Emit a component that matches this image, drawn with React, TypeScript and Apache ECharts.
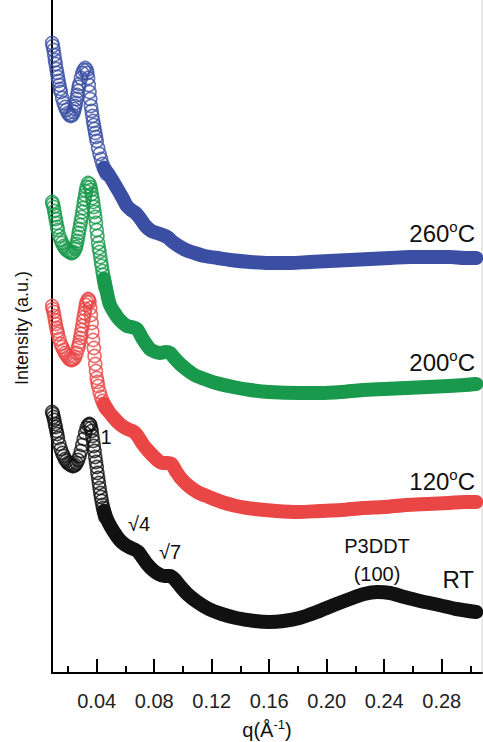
import React, { useEffect, useRef } from 'react';
import * as echarts from 'echarts';

// x-axis ticks (q, 1/Å)
const qMajorTicks = [0.04, 0.08, 0.12, 0.16, 0.2, 0.24, 0.28];
const qMinorTicks = [0.02, 0.06, 0.1, 0.14, 0.18, 0.22, 0.26, 0.3];

// ---- 260 oC (blue) ----
const blueLowQ: number[][] = [
  [0.009, 630], [0.0095, 627], [0.01, 623], [0.0105, 618], [0.011, 613], [0.0115, 609], [0.012, 604],
  [0.0125, 600], [0.013, 596], [0.0135, 592], [0.014, 588], [0.0145, 584], [0.015, 581], [0.016, 575],
  [0.017, 570], [0.018, 566], [0.019, 563], [0.02, 560], [0.021, 558], [0.022, 557], [0.023, 558],
  [0.024, 561], [0.0245, 564], [0.025, 567], [0.0255, 570], [0.026, 574], [0.0265, 578], [0.027, 582],
  [0.0275, 586], [0.028, 589], [0.029, 595], [0.03, 600], [0.031, 603], [0.032, 605], [0.033, 603],
  [0.0335, 600], [0.034, 595], [0.0345, 588], [0.035, 581], [0.0355, 574], [0.036, 567], [0.0365, 562],
  [0.037, 557], [0.0375, 552], [0.038, 548], [0.0385, 544], [0.039, 540], [0.0395, 536], [0.04, 532],
  [0.041, 525], [0.042, 519], [0.043, 514], [0.044, 509], [0.045, 505], [0.046, 502], [0.047, 499],
];
const blueHighQ: number[][] = [
  [0.045, 505], [0.049, 497], [0.054, 485], [0.058, 475], [0.061, 467], [0.064, 463], [0.067, 460],
  [0.07, 455], [0.074, 447], [0.078, 442], [0.082, 440], [0.086, 438], [0.089, 436], [0.093, 431],
  [0.097, 427], [0.102, 423], [0.108, 420], [0.115, 417], [0.124, 415], [0.133, 413], [0.147, 411],
  [0.16, 410], [0.175, 410], [0.188, 411], [0.202, 412], [0.216, 413], [0.23, 414], [0.244, 415],
  [0.258, 416], [0.272, 416], [0.286, 416], [0.296, 415], [0.304, 415],
];

// ---- 200 oC (green) ----
const greenLowQ: number[][] = [
  [0.009, 471], [0.0095, 469], [0.01, 466], [0.0105, 462], [0.011, 458], [0.0115, 454], [0.012, 450],
  [0.0125, 446], [0.013, 443], [0.014, 437], [0.015, 433], [0.016, 430], [0.017, 427], [0.018, 425],
  [0.019, 423], [0.02, 422], [0.021, 421], [0.022, 420], [0.023, 420], [0.024, 421], [0.025, 424],
  [0.0255, 426], [0.026, 429], [0.0265, 432], [0.027, 436], [0.0275, 440], [0.028, 444], [0.0285, 448],
  [0.029, 452], [0.0295, 456], [0.03, 461], [0.0305, 465], [0.031, 470], [0.0315, 474], [0.032, 478],
  [0.0325, 482], [0.033, 486], [0.034, 490], [0.035, 489], [0.0355, 486], [0.036, 483], [0.0365, 479],
  [0.037, 475], [0.0375, 471], [0.038, 466], [0.0385, 461], [0.039, 456], [0.0395, 450], [0.04, 443],
  [0.0405, 437], [0.041, 430], [0.0415, 425], [0.042, 421], [0.0425, 416], [0.043, 411], [0.0435, 407],
  [0.044, 402], [0.0445, 398], [0.045, 394], [0.0455, 390], [0.046, 386],
];
const greenHighQ: number[][] = [
  [0.045, 394], [0.047, 381], [0.049, 369], [0.052, 361], [0.056, 353], [0.061, 347], [0.064, 346],
  [0.068, 344], [0.072, 334], [0.077, 324], [0.081, 321], [0.084, 320], [0.088, 321], [0.091, 320],
  [0.094, 315], [0.098, 309], [0.103, 303], [0.108, 298], [0.113, 295], [0.123, 290],
  [0.135, 286], [0.147, 283], [0.16, 281], [0.181, 280], [0.195, 280], [0.21, 281], [0.225, 283],
  [0.24, 284], [0.255, 285], [0.27, 286], [0.285, 287], [0.296, 288], [0.304, 289],
];

// ---- 120 oC (red) ----
const redLowQ: number[][] = [
  [0.009, 367], [0.0095, 364], [0.01, 361], [0.0105, 357], [0.011, 353], [0.0115, 349], [0.012, 345],
  [0.0125, 342], [0.013, 339], [0.014, 334], [0.015, 329], [0.016, 326], [0.017, 323], [0.018, 320],
  [0.019, 318], [0.02, 316], [0.021, 314], [0.022, 313], [0.023, 313], [0.024, 314], [0.025, 316],
  [0.026, 320], [0.027, 325], [0.0275, 328], [0.028, 331], [0.0285, 335], [0.029, 339], [0.0295, 343],
  [0.03, 347], [0.0305, 352], [0.031, 356], [0.0315, 360], [0.032, 364], [0.0325, 368], [0.033, 371],
  [0.034, 374], [0.0345, 373], [0.035, 371], [0.0355, 365], [0.036, 358], [0.0365, 350], [0.037, 341],
  [0.0375, 333], [0.038, 325], [0.0385, 317], [0.039, 309], [0.0395, 302], [0.04, 295], [0.0405, 291],
  [0.041, 287], [0.042, 281], [0.043, 276], [0.044, 272], [0.045, 269], [0.046, 266], [0.047, 264],
];
const redHighQ: number[][] = [
  [0.045, 269], [0.048, 262], [0.052, 255], [0.056, 249], [0.06, 245], [0.063, 243], [0.066, 241],
  [0.069, 236], [0.072, 229], [0.076, 222], [0.08, 216], [0.083, 212], [0.086, 210], [0.089, 210],
  [0.092, 209], [0.095, 202], [0.099, 194], [0.104, 187], [0.11, 181], [0.118, 176], [0.127, 171],
  [0.137, 167], [0.15, 164], [0.165, 162], [0.18, 161], [0.195, 162], [0.21, 163], [0.225, 165],
  [0.24, 166], [0.255, 168], [0.27, 169], [0.285, 170], [0.296, 171], [0.304, 171],
];

// ---- RT (black) ----
const blackLowQ: number[][] = [
  [0.009, 261], [0.0095, 259], [0.01, 256], [0.0105, 253], [0.011, 249], [0.0115, 246], [0.012, 242],
  [0.0125, 239], [0.013, 235], [0.014, 229], [0.015, 224], [0.016, 220], [0.017, 217], [0.018, 214],
  [0.019, 212], [0.02, 210], [0.021, 209], [0.022, 208], [0.023, 207], [0.024, 207], [0.025, 208],
  [0.026, 210], [0.027, 213], [0.028, 217], [0.029, 222], [0.03, 228], [0.031, 234], [0.032, 240],
  [0.033, 245], [0.034, 248], [0.035, 249], [0.0355, 248], [0.036, 245], [0.0365, 242], [0.037, 237],
  [0.0375, 232], [0.038, 227], [0.0385, 222], [0.039, 216], [0.0395, 211], [0.04, 206], [0.0405, 200],
  [0.041, 195], [0.0415, 190], [0.042, 185], [0.0425, 180], [0.043, 176], [0.0435, 172], [0.044, 168],
  [0.0445, 165], [0.045, 162], [0.0455, 159], [0.046, 156],
];
const blackHighQ: number[][] = [
  [0.045, 162], [0.048, 151], [0.052, 141], [0.056, 133], [0.06, 128], [0.064, 125], [0.067, 123],
  [0.069, 121], [0.072, 115], [0.075, 109], [0.079, 103], [0.083, 99], [0.087, 97], [0.091, 97],
  [0.094, 94], [0.098, 87], [0.103, 79], [0.11, 71], [0.118, 64], [0.127, 59], [0.137, 55],
  [0.15, 52], [0.16, 51], [0.17, 52], [0.181, 55], [0.193, 61], [0.205, 68], [0.216, 74],
  [0.226, 79], [0.235, 81], [0.244, 80], [0.254, 76], [0.265, 72], [0.278, 68], [0.29, 64], [0.304, 61],
];

const FONT = '"Liberation Sans", Arial, Helvetica, sans-serif';

const curves = [
  { name: 'RT', color: '#111111', low: blackLowQ, high: blackHighQ },
  { name: '120oC', color: '#ea4646', low: redLowQ, high: redHighQ },
  { name: '200oC', color: '#18994b', low: greenLowQ, high: greenHighQ },
  { name: '260oC', color: '#3a4fa3', low: blueLowQ, high: blueHighQ },
];

function tempLabel(deg: string, x: number, y: number) {
  return {
    type: 'text',
    x,
    y,
    style: {
      text: `{a|${deg}}{b|o}{a|C}`,
      align: 'right',
      verticalAlign: 'middle',
      rich: {
        a: { fontSize: 24, fontFamily: FONT, fill: '#111', lineHeight: 28 },
        b: { fontSize: 15, fontFamily: FONT, fill: '#111', verticalAlign: 'top', lineHeight: 18 },
      },
    },
  };
}

function plainText(text: string, x: number, y: number, size: number) {
  return {
    type: 'text',
    x,
    y,
    style: { text, fontSize: size, fontFamily: FONT, fill: '#111', align: 'center', verticalAlign: 'middle' },
  };
}

export default function App() {
  const ref = useRef<HTMLDivElement>(null);
  useEffect(() => {
    if (!ref.current) return;
    const chart = echarts.init(ref.current, null, { renderer: 'svg' });
    const xMin = 0.0089;
    const xMax = 0.308;
    const series: any[] = [];
    curves.forEach((c) => {
      series.push({
        name: c.name,
        type: 'line',
        data: c.high,
        smooth: 0.3,
        showSymbol: false,
        clip: false,
        silent: true,
        lineStyle: { width: 14, color: c.color, cap: 'round', join: 'round' },
      });
      series.push({
        name: c.name,
        type: 'scatter',
        data: c.low,
        symbol: 'circle',
        symbolSize: 13,
        clip: false,
        silent: true,
        itemStyle: { color: 'rgba(255,255,255,0)', borderColor: c.color, borderWidth: 1.6 },
      });
    });
    chart.setOption({
      animation: false,
      backgroundColor: '#ffffff',
      grid: { left: 52, right: 1, top: 0, bottom: 69, outerBoundsMode: 'none', containLabel: false },
      xAxis: [
        {
          type: 'value',
          min: xMin,
          max: xMax,
          position: 'bottom',
          axisLine: { show: true, onZero: false, lineStyle: { color: '#000', width: 2 } },
          axisTick: {
            show: true,
            inside: true,
            length: 14,
            customValues: qMajorTicks,
            lineStyle: { color: '#000', width: 2 },
          },
          axisLabel: {
            show: true,
            customValues: qMajorTicks,
            formatter: (v: number) => v.toFixed(2),
            fontSize: 20,
            fontFamily: FONT,
            color: '#222',
            margin: 18,
          },
          splitLine: { show: false },
        },
        {
          type: 'value',
          min: xMin,
          max: xMax,
          position: 'bottom',
          axisLine: { show: false, onZero: false },
          axisTick: {
            show: true,
            inside: true,
            length: 7,
            customValues: qMinorTicks,
            lineStyle: { color: '#000', width: 2 },
          },
          axisLabel: { show: false },
          splitLine: { show: false },
        },
      ],
      yAxis: {
        type: 'value',
        min: 0,
        max: 673,
        axisLine: { show: true, onZero: false, lineStyle: { color: '#000', width: 2 } },
        axisTick: { show: false },
        axisLabel: { show: false },
        splitLine: { show: false },
      },
      series,
      graphic: [
        { type: 'line', shape: { x1: 482, y1: 0, x2: 482, y2: 673 }, style: { stroke: '#d0d0d0', lineWidth: 1 } },
        {
          type: 'text',
          x: 22,
          y: 328,
          rotation: Math.PI / 2,
          style: {
            text: 'Intensity (a.u.)',
            fontSize: 18,
            fontFamily: FONT,
            fill: '#111',
            align: 'center',
            verticalAlign: 'middle',
          },
        },
        {
          type: 'text',
          x: 267,
          y: 730,
          style: {
            text: '{n|q(Å}{s|-1}{n|)}',
            align: 'center',
            verticalAlign: 'middle',
            rich: {
              n: { fontSize: 20, fontFamily: FONT, fill: '#111', lineHeight: 24 },
              s: { fontSize: 13, fontFamily: FONT, fill: '#111', verticalAlign: 'top', lineHeight: 14 },
            },
          },
        },
        tempLabel('260', 475, 233),
        tempLabel('200', 475, 362),
        tempLabel('120', 475, 481),
        { type: 'text', x: 474, y: 579, style: { text: 'RT', fontSize: 24, fontFamily: FONT, fill: '#111', align: 'right', verticalAlign: 'middle' } },
        plainText('1', 106, 437, 20),
        plainText('√4', 139, 524, 20),
        plainText('√7', 170, 552, 20),
        plainText('P3DDT', 377, 546, 20),
        plainText('(100)', 377, 574, 20),
      ],
    });
    return () => chart.dispose();
  }, []);
  return (
    <div
      ref={ref}
      style={{ position: 'fixed', left: 0, top: 0, width: 483, height: 742, background: '#fff' }}
    />
  );
}
